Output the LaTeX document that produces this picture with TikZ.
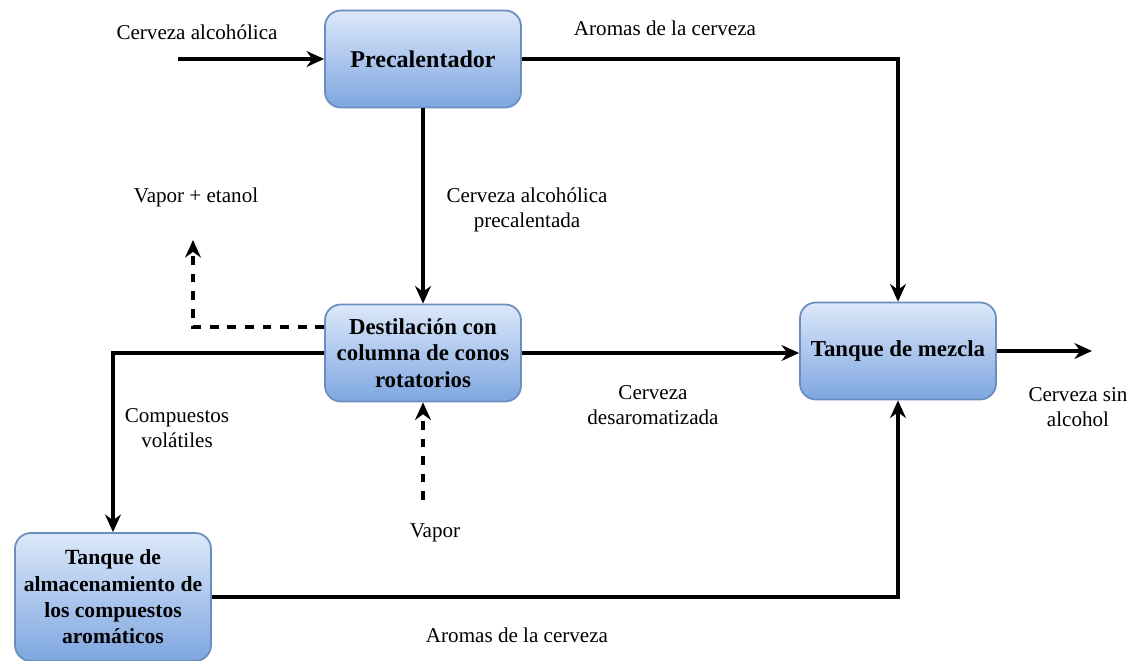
\documentclass[tikz,border=0pt]{standalone}
\usepackage{fontspec}
\setmainfont{Liberation Serif}
\usetikzlibrary{arrows.meta}
\definecolor{boxtop}{HTML}{DCE8FA}
\definecolor{boxbot}{HTML}{7EA6E0}
\definecolor{boxline}{HTML}{6C8EBF}
\tikzset{
    proc/.style={draw=boxline,line width=1pt,rounded corners=9pt,top color=boxtop,bottom color=boxbot,
        minimum width=196*0.02cm,minimum height=97*0.02cm,align=center,font=\fontsize{13}{15}\selectfont\bfseries},
    flow/.style={line width=2pt,-{Stealth[length=10pt,width=9pt]}},
    dflow/.style={flow,dash pattern=on 5pt off 5pt},
    lbl/.style={align=center,font=\fontsize{12}{14}\selectfont}
}
\begin{document}
\begin{tikzpicture}[x=0.02cm,y=-0.02cm]
    \useasboundingbox (0,0) rectangle (1132,661);
    % bloques
    \node[proc,font=\fontsize{13.7}{15}\selectfont\bfseries] (pre) at (423,59) {Precalentador};
    \node[proc] (des) at (423,353) {Destilación con\\columna de conos\\rotatorios};
    \node[proc] (mez) at (898,351) {Tanque de mezcla};
    \node[proc,minimum height=128*0.02cm,font=\fontsize{12.3}{15}\selectfont\bfseries] (alm) at (113,597)
        {Tanque de\\almacenamiento de\\los compuestos\\aromáticos};
    % extremos libres
    \coordinate (in) at (178,59);
    \coordinate (out) at (1092,351);
    \coordinate (vap) at (193,240);
    \coordinate (vin) at (423,500);
    % flujos
    \draw[flow] (in) -- (pre);
    \draw[flow] (pre.east) -| (mez.north);
    \draw[flow] (pre) -- (des);
    \draw[dflow] ([yshift=26*0.02cm]des.west) -| (vap);
    \draw[flow] (des.west) -| (alm.north);
    \draw[flow] (des.east) -- (des.east -| mez.west);
    \draw[dflow] (vin) -- (des.south);
    \draw[flow] (alm.east) -| (mez.south);
    \draw[flow] (mez.east) -- (out);
    % etiquetas
    \node[lbl] (l1) at (197,32) {Cerveza alcohólica};
    \node[lbl] (l2) at (665,28) {Aromas de la cerveza};
    \node[lbl] (l3) at (527,210) {Cerveza alcohólica\\precalentada};
    \node[lbl] (l4) at (196,197) {Vapor + etanol};
    \node[lbl] (l5) at (177,428) {Compuestos\\volátiles};
    \node[lbl] (l6) at (653,405) {Cerveza\\desaromatizada};
    \node[lbl] (l7) at (435,533) {Vapor};
    \node[lbl] (l8) at (517,635) {Aromas de la cerveza};
    \node[lbl] (l9) at (1078,407) {Cerveza sin\\alcohol};
\end{tikzpicture}
\end{document}
